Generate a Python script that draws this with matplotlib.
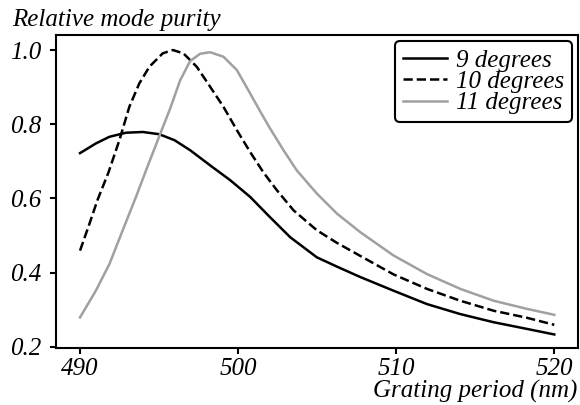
import matplotlib
matplotlib.use("Agg")
import matplotlib.pyplot as plt

# Relative mode purity vs grating period (nm)
x9 = [490.0, 491.0, 491.86, 492.9, 493.97, 495.0, 495.97, 496.96, 498.23, 499.5,
      500.76, 502.0, 503.3, 504.98, 506.3, 507.72, 509.83, 511.94, 514.05, 516.16,
      518.27, 520.0]
deg9 = [0.722, 0.748, 0.766, 0.777, 0.779, 0.773, 0.757, 0.730, 0.689, 0.649,
        0.604, 0.550, 0.495, 0.441, 0.415, 0.388, 0.351, 0.315, 0.288, 0.266,
        0.248, 0.233]

x10 = [490.0, 490.6, 491.1, 491.8, 492.49, 493.12, 493.75, 494.39, 495.23, 495.87,
       496.54, 497.38, 498.23, 499.07, 499.92, 500.76, 501.6, 502.45, 503.5, 504.98,
       506.25, 507.72, 509.83, 511.94, 514.05, 516.16, 518.27, 520.0]
deg10 = [0.459, 0.532, 0.595, 0.670, 0.757, 0.847, 0.910, 0.955, 0.991, 1.000,
         0.991, 0.955, 0.901, 0.847, 0.784, 0.725, 0.670, 0.622, 0.568, 0.514,
         0.480, 0.445, 0.395, 0.356, 0.324, 0.297, 0.278, 0.259]

x11 = [490.0, 491.0, 491.86, 492.7, 493.54, 494.18, 495.0, 495.7, 496.33, 496.96,
       497.6, 498.23, 499.07, 499.92, 500.76, 501.39, 502.0, 502.87, 503.7, 504.98,
       506.25, 507.72, 509.83, 511.94, 514.05, 516.16, 518.27, 520.0]
deg11 = [0.279, 0.351, 0.423, 0.514, 0.604, 0.676, 0.766, 0.842, 0.918, 0.970,
         0.990, 0.994, 0.982, 0.946, 0.883, 0.835, 0.790, 0.730, 0.676, 0.613,
         0.559, 0.509, 0.446, 0.396, 0.356, 0.324, 0.302, 0.286]

labels = ["9 degrees", "10 degrees", "11 degrees"]
xticks = [490, 500, 510, 520]
yticks = [0.2, 0.4, 0.6, 0.8, 1.0]

FONT = 'Liberation Serif'
FS = 18
plt.rcParams['font.family'] = FONT
plt.rcParams['font.style'] = 'italic'

fig = plt.figure(figsize=(5.8, 4.05), dpi=100)
ax = fig.add_axes([56/580, 1 - 348/405, (578 - 56)/580, (348 - 35)/405])

ax.plot(x9, deg9, color='black', lw=1.8, label=labels[0])
ax.plot(x10, deg10, color='black', lw=1.8, ls='--', label=labels[1])
ax.plot(x11, deg11, color='#a0a0a0', lw=1.8, label=labels[2])

ax.set_xlim(488.48, 521.5)
ax.set_ylim(0.1965, 1.0405)
ax.set_xticks(xticks)
ax.set_xticklabels([str(v) for v in xticks], family=FONT, style='italic', fontsize=FS)
ax.set_yticks(yticks)
ax.set_yticklabels([f"{v:.1f}" for v in yticks], family=FONT, style='italic', fontsize=FS)
for s in ax.spines.values():
    s.set_linewidth(1.5)
ax.tick_params(axis='both', direction='out', length=4.5, width=1.5,
               top=False, right=False)
ax.tick_params(axis='y', pad=6)
ax.tick_params(axis='x', pad=3)

fig.text(12/580, 1 - 26/405, "Relative mode purity", fontsize=FS, family=FONT,
         ha='left', va='baseline', style='italic')
fig.text(577/580, 1 - 398/405, "Grating period (nm)", fontsize=FS, family=FONT,
         ha='right', va='baseline', style='italic')

leg = ax.legend(loc='upper right', prop={'family': FONT, 'style': 'italic', 'size': FS},
                frameon=True, fancybox=True,
                handlelength=1.75, handletextpad=0.35, labelspacing=-0.05,
                borderpad=0.32, borderaxespad=0.25, framealpha=1)
leg.get_frame().set_edgecolor('black')
leg.get_frame().set_linewidth(1.5)

fig.savefig("out.png", dpi=100)
